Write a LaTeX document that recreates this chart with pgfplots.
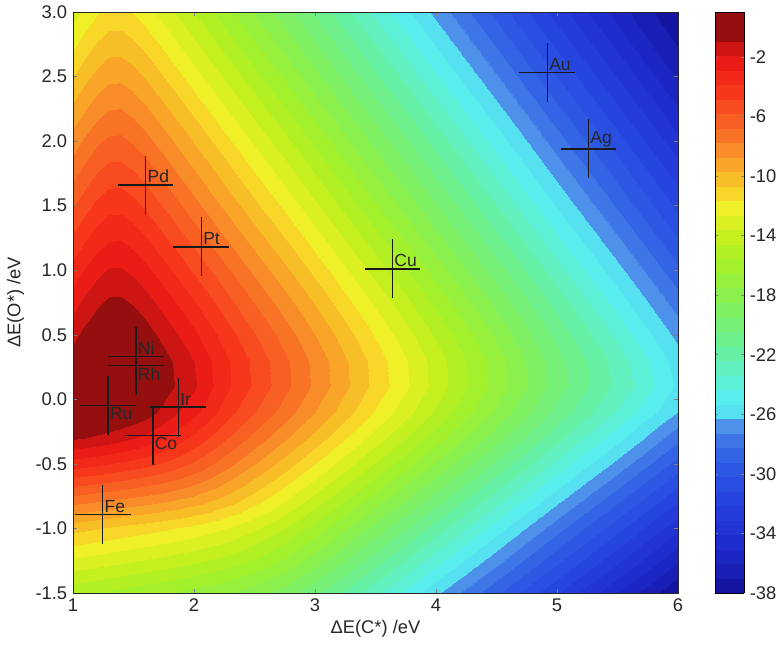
\documentclass[border=0pt]{standalone}
\usepackage{fontspec}
\setmainfont{Liberation Sans}
\usepackage{pgfplots}
\usepackage{pgfplotstable}
\pgfplotsset{compat=1.18}

\pgfplotstableread{
x y z
1.0 -1.5 -15.32
1.1 -1.5 -15.47
1.2 -1.5 -15.62
1.3 -1.5 -15.77
1.4 -1.5 -15.92
1.5 -1.5 -16.08
1.6 -1.5 -16.23
1.8 -1.5 -16.55
2.0 -1.5 -16.88
2.25 -1.5 -17.38
2.5 -1.5 -18.05
2.75 -1.5 -19.00
3.0 -1.5 -20.23
3.25 -1.5 -21.63
3.5 -1.5 -23.09
3.75 -1.5 -24.58
4.0 -1.5 -26.08
4.5 -1.5 -29.08
5.0 -1.5 -32.08
5.5 -1.5 -35.08
6.0 -1.5 -38.00
1.0 -1.25 -12.82
1.1 -1.25 -12.97
1.2 -1.25 -13.12
1.3 -1.25 -13.27
1.4 -1.25 -13.43
1.5 -1.25 -13.58
1.6 -1.25 -13.74
1.8 -1.25 -14.06
2.0 -1.25 -14.41
2.25 -1.25 -14.95
2.5 -1.25 -15.71
2.75 -1.25 -16.77
3.0 -1.25 -18.07
3.25 -1.25 -19.50
3.5 -1.25 -20.97
3.75 -1.25 -22.46
4.0 -1.25 -23.96
4.5 -1.25 -26.96
5.0 -1.25 -29.96
5.5 -1.25 -32.96
6.0 -1.25 -35.96
1.0 -1.0 -10.32
1.1 -1.0 -10.47
1.2 -1.0 -10.62
1.3 -1.0 -10.78
1.4 -1.0 -10.93
1.5 -1.0 -11.08
1.6 -1.0 -11.24
1.8 -1.0 -11.58
2.0 -1.0 -11.95
2.25 -1.0 -12.55
2.5 -1.0 -13.41
2.75 -1.0 -14.57
3.0 -1.0 -15.93
3.25 -1.0 -17.38
3.5 -1.0 -18.86
3.75 -1.0 -20.35
4.0 -1.0 -21.85
4.5 -1.0 -24.85
5.0 -1.0 -27.85
5.5 -1.0 -30.85
6.0 -1.0 -33.85
1.0 -0.75 -6.83
1.1 -0.75 -6.98
1.2 -0.75 -7.14
1.3 -0.75 -7.29
1.4 -0.75 -7.46
1.5 -0.75 -7.63
1.6 -0.75 -7.81
1.8 -0.75 -8.22
2.0 -0.75 -8.77
2.25 -0.75 -9.70
2.5 -0.75 -10.91
2.75 -0.75 -12.30
3.0 -0.75 -13.76
3.25 -0.75 -15.24
3.5 -0.75 -16.74
3.75 -0.75 -18.24
4.0 -0.75 -19.74
4.5 -0.75 -22.74
5.0 -0.75 -25.74
5.5 -0.75 -28.74
6.0 -0.75 -31.74
1.0 -0.5 -3.36
1.1 -0.5 -3.52
1.2 -0.5 -3.69
1.3 -0.5 -3.87
1.4 -0.5 -4.07
1.5 -0.5 -4.29
1.6 -0.5 -4.54
1.8 -0.5 -5.17
2.0 -0.5 -6.00
2.25 -0.5 -7.30
2.5 -0.5 -8.71
2.75 -0.5 -10.18
3.0 -0.5 -11.67
3.25 -0.5 -13.17
3.5 -0.5 -14.67
3.75 -0.5 -16.17
4.0 -0.5 -17.67
4.5 -0.5 -20.67
5.0 -0.5 -23.67
5.5 -0.5 -26.64
6.0 -0.5 -29.63
1.0 -0.3 -0.81
1.1 -0.3 -0.95
1.2 -0.3 -1.12
1.3 -0.3 -1.33
1.4 -0.3 -1.58
1.5 -0.3 -1.87
1.6 -0.3 -2.22
1.8 -0.3 -3.11
2.0 -0.3 -4.12
2.25 -0.3 -5.63
2.5 -0.3 -7.10
2.75 -0.3 -8.59
3.0 -0.3 -10.08
3.25 -0.3 -11.58
3.5 -0.3 -13.08
3.75 -0.3 -14.58
4.0 -0.3 -16.08
4.5 -0.3 -19.08
5.0 -0.3 -22.08
5.5 -0.3 -24.98
6.0 -0.3 -27.96
1.0 -0.1 0.41
1.1 -0.1 0.49
1.2 -0.1 0.46
1.3 -0.1 0.36
1.4 -0.1 0.17
1.5 -0.1 -0.09
1.6 -0.1 -0.44
1.8 -0.1 -1.51
2.0 -0.1 -2.58
2.25 -0.1 -4.26
2.5 -0.1 -5.75
2.75 -0.1 -7.24
3.0 -0.1 -8.74
3.25 -0.1 -10.24
3.5 -0.1 -11.74
3.75 -0.1 -13.24
4.0 -0.1 -14.74
4.5 -0.1 -17.74
5.0 -0.1 -20.74
5.5 -0.1 -23.50
6.0 -0.1 -26.30
1.0 0.1 0.20
1.1 0.1 0.50
1.2 0.1 0.67
1.3 0.1 0.73
1.4 0.1 0.68
1.5 0.1 0.55
1.6 0.1 0.32
1.8 0.1 -0.76
2.0 0.1 -1.76
2.25 0.1 -3.53
2.5 0.1 -5.01
2.75 0.1 -6.50
3.0 0.1 -8.00
3.25 0.1 -9.50
3.5 0.1 -11.00
3.75 0.1 -12.50
4.0 0.1 -14.00
4.5 0.1 -17.00
5.0 0.1 -20.00
5.5 0.1 -22.66
6.0 0.1 -25.52
1.0 0.3 -0.42
1.1 0.3 0.05
1.2 0.3 0.38
1.3 0.3 0.54
1.4 0.3 0.54
1.5 0.3 0.40
1.6 0.3 0.13
1.8 0.3 -0.86
2.0 0.3 -1.93
2.25 0.3 -3.60
2.5 0.3 -5.08
2.75 0.3 -6.58
3.0 0.3 -8.08
3.25 0.3 -9.58
3.5 0.3 -11.08
3.75 0.3 -12.58
4.0 0.3 -14.08
4.5 0.3 -17.08
5.0 0.3 -20.08
5.5 0.3 -22.86
6.0 0.3 -25.79
1.0 0.5 -1.22
1.1 0.5 -0.63
1.2 0.5 -0.17
1.3 0.5 0.09
1.4 0.5 0.11
1.5 0.5 -0.11
1.6 0.5 -0.49
1.8 0.5 -1.53
2.0 0.5 -2.67
2.25 0.5 -4.24
2.5 0.5 -5.73
2.75 0.5 -7.23
3.0 0.5 -8.73
3.25 0.5 -10.23
3.5 0.5 -11.73
3.75 0.5 -13.23
4.0 0.5 -14.73
4.5 0.5 -17.73
5.0 0.5 -20.73
5.5 0.5 -23.64
6.0 0.5 -26.62
1.0 0.75 -2.34
1.1 0.75 -1.68
1.2 0.75 -1.13
1.3 0.75 -0.78
1.4 0.75 -0.76
1.5 0.75 -1.05
1.6 0.75 -1.51
1.8 0.75 -2.63
2.0 0.75 -3.81
2.25 0.75 -5.33
2.5 0.75 -6.83
2.75 0.75 -8.33
3.0 0.75 -9.83
3.25 0.75 -11.33
3.5 0.75 -12.83
3.75 0.75 -14.33
4.0 0.75 -15.83
4.5 0.75 -18.83
5.0 0.75 -21.83
5.5 0.75 -24.81
6.0 0.75 -27.80
1.0 1.0 -3.51
1.1 1.0 -2.83
1.2 1.0 -2.24
1.3 1.0 -1.85
1.4 1.0 -1.83
1.5 1.0 -2.15
1.6 1.0 -2.66
1.8 1.0 -3.81
2.0 1.0 -5.00
2.25 1.0 -6.50
2.5 1.0 -8.00
2.75 1.0 -9.50
3.0 1.0 -11.00
3.25 1.0 -12.50
3.5 1.0 -14.00
3.75 1.0 -15.50
4.0 1.0 -17.00
4.5 1.0 -20.00
5.0 1.0 -23.00
5.5 1.0 -26.00
6.0 1.0 -29.00
1.0 1.5 -5.90
1.1 1.5 -5.21
1.2 1.5 -4.60
1.3 1.5 -4.19
1.4 1.5 -4.17
1.5 1.5 -4.51
1.6 1.5 -5.03
1.8 1.5 -6.20
2.0 1.5 -7.40
2.25 1.5 -8.90
2.5 1.5 -10.40
2.75 1.5 -11.90
3.0 1.5 -13.40
3.25 1.5 -14.90
3.5 1.5 -16.40
3.75 1.5 -17.90
4.0 1.5 -19.40
4.5 1.5 -22.40
5.0 1.5 -25.40
5.5 1.5 -28.40
6.0 1.5 -31.40
1.0 2.0 -8.30
1.1 2.0 -7.61
1.2 2.0 -7.00
1.3 2.0 -6.59
1.4 2.0 -6.57
1.5 2.0 -6.91
1.6 2.0 -7.43
1.8 2.0 -8.60
2.0 2.0 -9.80
2.25 2.0 -11.30
2.5 2.0 -12.80
2.75 2.0 -14.30
3.0 2.0 -15.80
3.25 2.0 -17.30
3.5 2.0 -18.80
3.75 2.0 -20.30
4.0 2.0 -21.80
4.5 2.0 -24.80
5.0 2.0 -27.80
5.5 2.0 -30.80
6.0 2.0 -33.80
1.0 2.5 -10.70
1.1 2.5 -10.01
1.2 2.5 -9.40
1.3 2.5 -8.99
1.4 2.5 -8.97
1.5 2.5 -9.31
1.6 2.5 -9.83
1.8 2.5 -11.00
2.0 2.5 -12.20
2.25 2.5 -13.70
2.5 2.5 -15.20
2.75 2.5 -16.70
3.0 2.5 -18.20
3.25 2.5 -19.70
3.5 2.5 -21.20
3.75 2.5 -22.70
4.0 2.5 -24.20
4.5 2.5 -27.20
5.0 2.5 -30.20
5.5 2.5 -33.20
6.0 2.5 -36.20
1.0 3.0 -13.10
1.1 3.0 -12.41
1.2 3.0 -11.80
1.3 3.0 -11.39
1.4 3.0 -11.37
1.5 3.0 -11.71
1.6 3.0 -12.23
1.8 3.0 -13.40
2.0 3.0 -14.60
2.25 3.0 -16.10
2.5 3.0 -17.60
2.75 3.0 -19.10
3.0 3.0 -20.60
3.25 3.0 -22.10
3.5 3.0 -23.60
3.75 3.0 -25.10
4.0 3.0 -26.60
4.5 3.0 -29.60
5.0 3.0 -32.60
5.5 3.0 -35.60
6.0 3.0 -38.00
}\fielddata

\pgfplotstableread{
name x y ex ey
Pd 1.60 1.66 0.20 0.20
Pt 2.06 1.18 0.20 0.20
Cu 3.64 1.01 0.20 0.20
Au 4.92 2.53 0.20 0.20
Ag 5.26 1.94 0.20 0.20
Ni 1.52 0.33 0.20 0.20
Rh 1.52 0.26 0.20 0.20
Ru 1.29 -0.05 0.20 0.20
Ir 1.87 -0.06 0.20 0.20
Co 1.66 -0.28 0.20 0.20
Fe 1.245 -0.89 0.20 0.20
}\metals

\begin{document}
\begin{tikzpicture}
\begin{axis}[
  name=ax,
  scale only axis, width=363pt, height=348.6pt,
  xmin=1, xmax=6, ymin=-1.5, ymax=3,
  xtick={1,2,3,4,5,6},
  ytick={-1.5,-1,-0.5,0,0.5,1,1.5,2,2.5,3},
  yticklabel style={/pgf/number format/.cd, fixed, fixed zerofill, precision=1},
  /pgf/number format/assume math mode=true,
  tick label style={font=\fontsize{11}{13}\selectfont, text=black!85},
  label style={font=\fontsize{11}{13}\selectfont, text=black!85},
  xlabel={ΔE(C*) /eV}, ylabel={ΔE(O*) /eV},
  xlabel style={yshift=2pt},
  major tick length=2.5pt,
  axis line style={black!85},
  axis on top,
  colormap={volc}{
    rgb255=(20,20,160) rgb255=(25,30,180) rgb255=(28,38,195) rgb255=(30,45,205)
    rgb255=(33,52,212) rgb255=(36,60,218) rgb255=(38,68,222) rgb255=(42,78,225)
    rgb255=(46,88,228) rgb255=(52,100,230) rgb255=(62,118,232) rgb255=(78,145,235)
    rgb255=(85,225,240) rgb255=(88,238,238) rgb255=(92,240,215) rgb255=(97,240,190)
    rgb255=(102,240,165) rgb255=(110,240,140) rgb255=(118,240,118) rgb255=(127,240,97)
    rgb255=(137,240,78) rgb255=(150,240,60) rgb255=(163,240,45) rgb255=(178,240,35)
    rgb255=(195,240,30) rgb255=(218,240,35) rgb255=(240,240,40) rgb255=(248,215,40)
    rgb255=(248,190,40) rgb255=(248,165,40) rgb255=(248,140,40) rgb255=(248,115,38)
    rgb255=(248,95,35) rgb255=(248,75,32) rgb255=(246,55,28) rgb255=(242,40,25)
    rgb255=(235,28,22) rgb255=(205,22,20) rgb255=(150,15,15) rgb255=(150,15,15)
  },
  colormap access=piecewise constant,
  point meta min=-38, point meta max=1,
  colorbar,
  colorbar style={
    at={(parent axis.north east)}, anchor=north west, xshift=13.6pt,
    width=17.4pt,
    ytick={-38,-34,-30,-26,-22,-18,-14,-10,-6,-2},
    yticklabel style={font=\fontsize{11}{13}\selectfont, text=black!85},
    /pgf/number format/assume math mode=true,
    major tick length=2pt,
  },
]
\addplot[surf, shader=interp, mesh/cols=21, point meta=explicit]
  table[x=x, y=y, meta=z] {\fielddata};

\addplot[black!90, line width=0.8pt, only marks, mark=*, mark size=0pt,
  error bars/.cd, x dir=both, x explicit, y dir=both, y explicit,
  error bar style={line width=0.8pt, black!90},
  error mark options={black!90, mark size=2.2pt, line width=0.8pt}]
  table[x=x, y=y, x error=ex, y error=ey] {\metals};

\addplot[only marks, mark=none, nodes near coords, point meta=explicit symbolic,
  every node near coord/.append style={anchor=south west, inner sep=1pt,
    font=\fontsize{10.5}{12}\selectfont, text=black!85}]
  coordinates {(1.60,1.66) [Pd] (2.06,1.18) [Pt] (3.64,1.01) [Cu]
    (4.92,2.53) [Au] (5.26,1.94) [Ag] (1.52,0.33) [Ni]
    (1.87,-0.06) [Ir] (1.245,-0.89) [Fe]};

\addplot[only marks, mark=none, nodes near coords, point meta=explicit symbolic,
  every node near coord/.append style={anchor=north west, inner sep=1pt,
    font=\fontsize{10.5}{12}\selectfont, text=black!85}]
  coordinates {(1.52,0.26) [Rh] (1.29,-0.05) [Ru] (1.66,-0.28) [Co]};
\end{axis}
\pgfresetboundingbox
\path ([shift={(-43.8pt,-33.6pt)}]ax.south west) rectangle ([shift={(63.6pt,7.2pt)}]ax.north east);
\end{tikzpicture}
\end{document}
